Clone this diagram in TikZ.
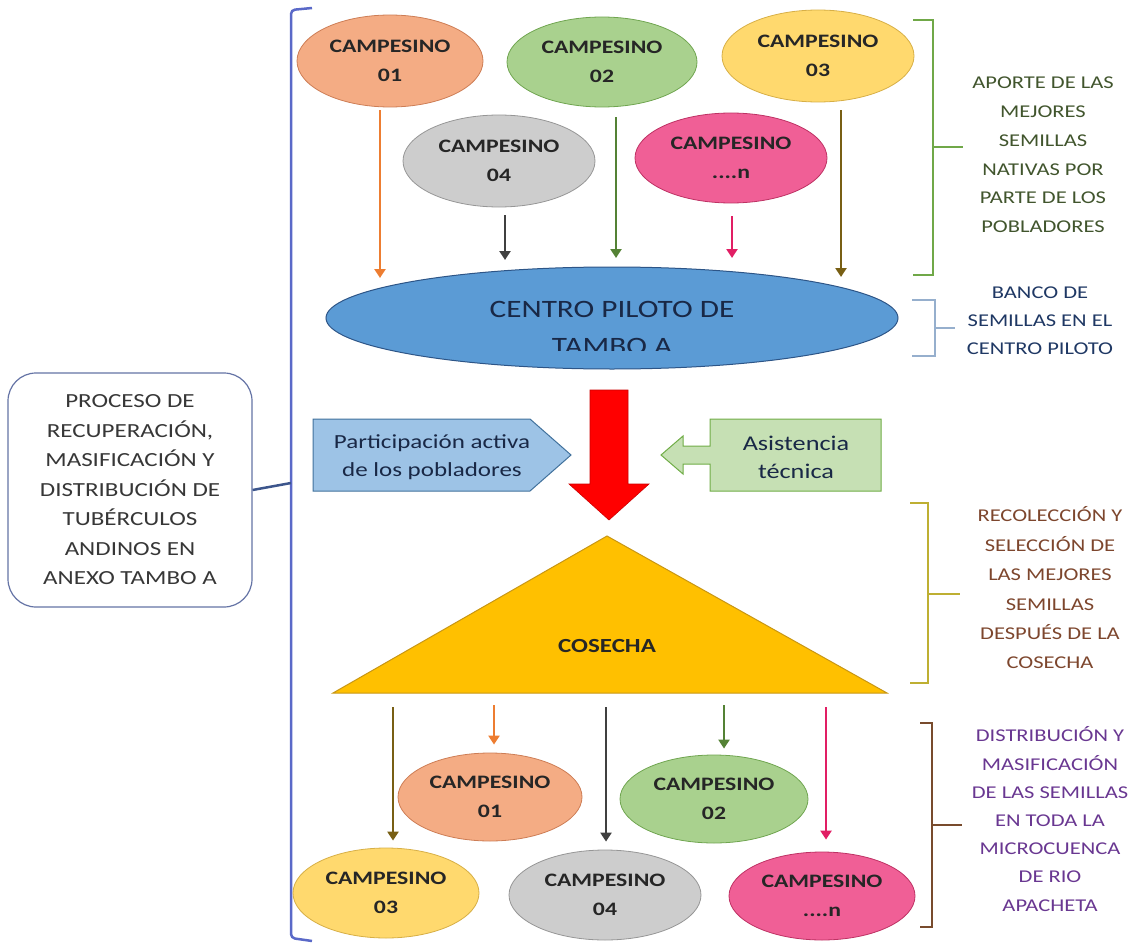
\documentclass[tikz,border=0pt]{standalone}
\usepackage{fontspec}
\setmainfont{Carlito}[FakeStretch=1.25]
\usetikzlibrary{arrows.meta,shapes.geometric}
\definecolor{cOrange}{RGB}{244,172,132}
\definecolor{cOrangeD}{RGB}{205,125,85}
\definecolor{aOrange}{RGB}{237,125,49}
\definecolor{cGreen}{RGB}{169,209,142}
\definecolor{cGreenD}{RGB}{112,165,80}
\definecolor{aGreen}{RGB}{84,130,53}
\definecolor{cYellow}{RGB}{255,217,110}
\definecolor{cYellowD}{RGB}{215,175,70}
\definecolor{aOlive}{RGB}{120,95,20}
\definecolor{cGrey}{RGB}{205,205,205}
\definecolor{cGreyD}{RGB}{150,150,150}
\definecolor{aGrey}{RGB}{64,64,64}
\definecolor{cPink}{RGB}{240,95,150}
\definecolor{cPinkD}{RGB}{190,50,100}
\definecolor{aPink}{RGB}{225,30,100}
\definecolor{cBlue}{RGB}{91,155,213}
\definecolor{cBlueD}{RGB}{45,85,135}
\definecolor{tNavy}{RGB}{25,40,70}
\definecolor{pBlue}{RGB}{157,195,230}
\definecolor{pBlueD}{RGB}{65,113,156}
\definecolor{gBox}{RGB}{198,224,180}
\definecolor{gBoxD}{RGB}{112,173,71}
\definecolor{triF}{RGB}{255,192,0}
\definecolor{triD}{RGB}{200,150,20}
\definecolor{bigBr}{RGB}{90,105,200}
\definecolor{tickBr}{RGB}{60,85,140}
\definecolor{procD}{RGB}{100,115,165}
\definecolor{tGrey}{RGB}{55,55,55}
\definecolor{brGreen}{RGB}{112,168,72}
\definecolor{tGreen}{RGB}{65,85,45}
\definecolor{brBlue}{RGB}{150,175,205}
\definecolor{tBlue}{RGB}{31,56,100}
\definecolor{brYellow}{RGB}{190,175,50}
\definecolor{tBrown}{RGB}{125,70,45}
\definecolor{brBrown}{RGB}{120,75,45}
\definecolor{tPurple}{RGB}{105,55,145}
\tikzset{
  camp/.style 2 args={ellipse, fill=#1, draw=#2, line width=0.8pt, inner sep=0pt,
    align=center, text=black!85, font=\bfseries\fontsize{19}{29}\selectfont},
  arr/.style={line width=2.6pt, draw=#1, -{Triangle[width=11pt,length=9pt]}},
  sidetext/.style={align=center, text=#1},
  brk/.style={line width=2pt, draw=#1}
}
\begin{document}
\begin{tikzpicture}[x=1pt,y=-1pt]
\useasboundingbox (0,0) rectangle (1143,947);

% left process box and big bracket
\node[draw=procD, line width=1.2pt, rounded corners=28pt, minimum width=244pt, minimum height=234pt,
      align=center, text=tGrey, font=\fontsize{20}{29.5}\selectfont] (proc) at (130,490)
  {PROCESO DE\\RECUPERACIÓN,\\MASIFICACIÓN Y\\DISTRIBUCIÓN DE\\TUBÉRCULOS\\ANDINOS EN\\ANEXO TAMBO A};
\draw[line width=2.5pt, bigBr, rounded corners=4pt] (312,8) -- (291,10) -- (291,938) -- (312,941);
\coordinate (bm) at (291,483);
\draw[line width=2.5pt, tickBr] (proc.east) -- (bm);

% top farmers
\node[camp={cOrange}{cOrangeD}, minimum width=186pt, minimum height=92pt] (c01) at (390,61) {CAMPESINO\\01};
\node[camp={cGreen}{cGreenD}, minimum width=190pt, minimum height=90pt] (c02) at (602,62) {CAMPESINO\\02};
\node[camp={cYellow}{cYellowD}, minimum width=192pt, minimum height=92pt] (c03) at (818,56) {CAMPESINO\\03};
\node[camp={cGrey}{cGreyD}, minimum width=192pt, minimum height=92pt] (c04) at (499,161) {CAMPESINO\\04};
\node[camp={cPink}{cPinkD}, minimum width=192pt, minimum height=90pt] (cn) at (731,158) {CAMPESINO\\....n};

% centro piloto
\node[ellipse, fill=cBlue, draw=cBlueD, line width=1pt, minimum width=572pt, minimum height=102pt, inner sep=0pt] (centro) at (612,318) {};
\begin{scope}
\clip (320,260) rectangle (910,350);
\node[align=center, text=tNavy, font=\fontsize{25}{37}\selectfont] (centrotxt) at (612,328) {CENTRO PILOTO DE\\TAMBO A};
\end{scope}

% top arrows
\coordinate (t1) at (380,278);
\coordinate (t2) at (505,260);
\coordinate (t3) at (616,258);
\coordinate (t4) at (732,258);
\coordinate (t5) at (841,277);
\draw[arr=aOrange] ([yshift=-3pt]c01.south -| t1) -- (t1);
\draw[arr=aGrey] ([yshift=-8pt]c04.south -| t2) -- (t2);
\draw[arr=aGreen] ([yshift=-10pt]c02.south -| t3) -- (t3);
\draw[arr=aPink] ([yshift=-13pt]cn.south -| t4) -- (t4);
\draw[arr=aOlive] ([yshift=-8pt]c03.south -| t5) -- (t5);

% right brackets and texts
\draw[brk=brGreen] (913,20) -- (933,20) -- (933,275) -- (913,275);
\draw[brk=brGreen] (933,147) -- (963,147);
\node[sidetext=tGreen, font=\fontsize{18}{28.8}\selectfont] (aporte) at (1043,155)
  {APORTE DE LAS\\MEJORES\\SEMILLAS\\NATIVAS POR\\PARTE DE LOS\\POBLADORES};
\draw[brk=brBlue, line width=1.3pt] (912,300) -- (935,300) -- (935,356) -- (912,356);
\draw[brk=brBlue, line width=1.3pt] (935,328) -- (955,328);
\node[sidetext=tBlue, font=\fontsize{18}{28}\selectfont] (banco) at (1040,321)
  {BANCO DE\\SEMILLAS EN EL\\CENTRO PILOTO};
\draw[brk=brYellow] (910,503) -- (928,503) -- (928,683) -- (910,683);
\draw[brk=brYellow] (928,594) -- (960,594);
\node[sidetext=tBrown, font=\fontsize{18}{29.4}\selectfont] (recol) at (1050,588)
  {RECOLECCIÓN Y\\SELECCIÓN DE\\LAS MEJORES\\SEMILLAS\\DESPUÉS DE LA\\COSECHA};
\draw[brk=brBrown] (920,723) -- (932,723) -- (932,927) -- (920,927);
\draw[brk=brBrown] (932,825) -- (962,825);
\node[sidetext=tPurple, font=\fontsize{18}{28.2}\selectfont] (distr) at (1050,819)
  {DISTRIBUCIÓN Y\\MASIFICACIÓN\\DE LAS SEMILLAS\\EN TODA LA\\MICROCUENCA\\DE RIO\\APACHETA};

% middle: participation, assistance, red arrow
\draw[fill=pBlue, draw=pBlueD, line width=1pt] (313,419) -- (530,419) -- (571,455) -- (530,491) -- (313,491) -- cycle;
\node[align=center, text=tNavy, font=\fontsize{20}{28}\selectfont] (part) at (432,457) {Participación activa\\de los pobladores};
\draw[fill=gBox, draw=gBoxD, line width=1pt] (881,419) -- (710,419) -- (710,446) -- (683,446) -- (683,436)
  -- (661,455) -- (683,474) -- (683,464) -- (710,464) -- (710,491) -- (881,491) -- cycle;
\node[align=center, text=tNavy, font=\fontsize{21}{28}\selectfont] (asist) at (796,457) {Asistencia\\técnica};
\draw[fill=red, draw=red!80!black, line width=0.6pt] (590,390) -- (628,390) -- (628,484) -- (649,484)
  -- (609,520) -- (569,484) -- (590,484) -- cycle;

% harvest triangle
\draw[fill=triF, draw=triD, line width=1pt] (607,536) -- (887,693) -- (333,693) -- cycle;
\node[font=\bfseries\fontsize{20}{24}\selectfont, text=black!85] (cosecha) at (607,646) {COSECHA};

% lower farmers
\node[camp={cOrange}{cOrangeD}, minimum width=184pt, minimum height=88pt] (d01) at (490,797) {CAMPESINO\\01};
\node[camp={cGreen}{cGreenD}, minimum width=188pt, minimum height=88pt] (d02) at (714,799) {CAMPESINO\\02};
\node[camp={cYellow}{cYellowD}, minimum width=186pt, minimum height=90pt] (d03) at (386,893) {CAMPESINO\\03};
\node[camp={cGrey}{cGreyD}, minimum width=192pt, minimum height=90pt] (d04) at (605,895) {CAMPESINO\\04};
\node[camp={cPink}{cPinkD}, minimum width=186pt, minimum height=88pt] (dn) at (822,896) {CAMPESINO\\....n};

% lower arrows
\coordinate (b1) at (393,707);
\coordinate (b2) at (494,705);
\coordinate (b3) at (606,707);
\coordinate (b4) at (724,705);
\coordinate (b5) at (826,707);
\draw[arr=aOlive] (b1) -- ([yshift=7pt]d03.north -| b1);
\draw[arr=aOrange] (b2) -- ([yshift=8pt]d01.north -| b2);
\draw[arr=aGrey] (b3) -- ([yshift=8pt]d04.north -| b3);
\draw[arr=aGreen] (b4) -- ([yshift=6pt]d02.north -| b4);
\draw[arr=aPink] (b5) -- ([yshift=12pt]dn.north -| b5);
\end{tikzpicture}
\end{document}
